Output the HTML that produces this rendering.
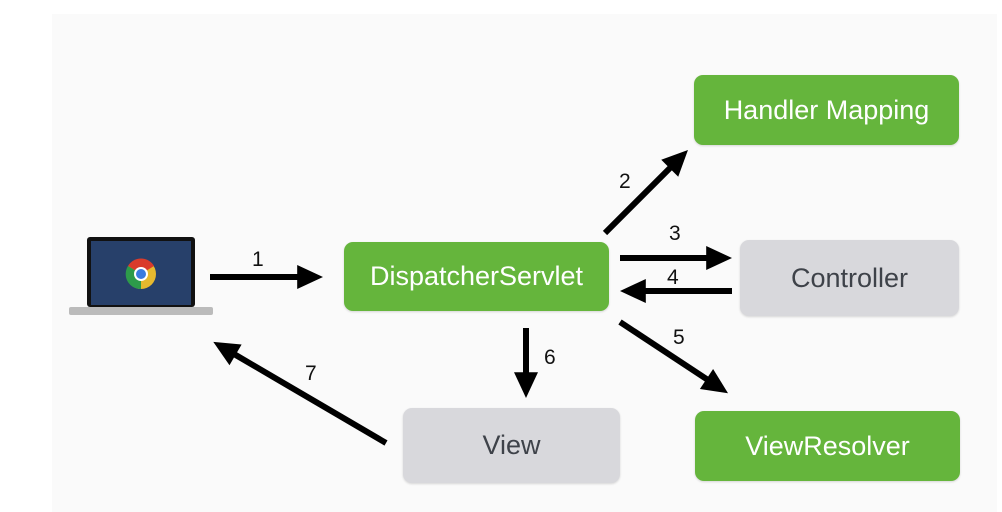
<!DOCTYPE html>
<html><head><meta charset="utf-8"><style>
body{margin:0;width:1002px;height:512px;background:#fff;overflow:hidden;position:relative;font-family:"Liberation Sans",sans-serif}
#bg{position:absolute;left:52px;top:14px;width:945px;height:498px;background:#fafafa}
.b{position:absolute;border-radius:9px;display:flex;align-items:center;justify-content:center;font-size:27px;box-shadow:0 1px 2px rgba(0,0,0,.15)}
.g{background:#65b53c;color:#fff}
.y{background:#d8d8dc;color:#3e4249}
.n{position:absolute;font-size:21px;color:#111}
</style></head><body>
<div id="bg"></div>
<div class="b g" style="left:694px;top:75px;width:265px;height:70px">Handler Mapping</div>
<div class="b y" style="left:740px;top:240px;width:219px;height:76px">Controller</div>
<div class="b g" style="left:695px;top:411px;width:265px;height:70px">ViewResolver</div>
<div class="b g" style="left:344px;top:242px;width:265px;height:69px">DispatcherServlet</div>
<div class="b y" style="left:403px;top:408px;width:217px;height:75px">View</div>
<svg style="position:absolute;left:0;top:0" width="1002" height="512">
<defs><marker id="a" markerWidth="5" markerHeight="5" refX="0" refY="2" orient="auto" markerUnits="strokeWidth" overflow="visible"><path d="M-0.3,0 L4,2 L-0.3,4z" fill="#000"/></marker></defs>
<g stroke="#000" stroke-width="6" marker-end="url(#a)">
<line x1="210" y1="277" x2="299" y2="277"/>
<line x1="605" y1="233" x2="671" y2="167"/>
<line x1="620" y1="258" x2="708" y2="258"/>
<line x1="732" y1="291" x2="644" y2="291"/>
<line x1="620" y1="322" x2="708" y2="380"/>
<line x1="526" y1="328" x2="526" y2="374"/>
<line x1="386" y1="443" x2="234" y2="354"/>
</g>
<rect x="87" y="237" width="108" height="70" rx="3" fill="#111"/>
<rect x="91" y="241" width="100" height="64" fill="#27406a"/>
<rect x="69" y="307" width="144" height="8" rx="2" fill="#bbb"/>
<circle cx="141" cy="274" r="15" fill="#e6b92f"/>
<path d="M141,274 L128,266 A15,15 0 0 1 154,266 Z" fill="#d93b2b"/>
<path d="M141,274 L128,266 A15,15 0 0 0 141,289 Z" fill="#2d9b4a"/>
<circle cx="141" cy="274" r="7" fill="#fff"/><circle cx="141" cy="274" r="5" fill="#3a7be0"/>
</svg>
<div class="n" style="left:252px;top:248px">1</div>
<div class="n" style="left:619px;top:170px">2</div>
<div class="n" style="left:669px;top:222px">3</div>
<div class="n" style="left:667px;top:266px">4</div>
<div class="n" style="left:673px;top:326px">5</div>
<div class="n" style="left:544px;top:346px">6</div>
<div class="n" style="left:305px;top:362px">7</div>
</body></html>
